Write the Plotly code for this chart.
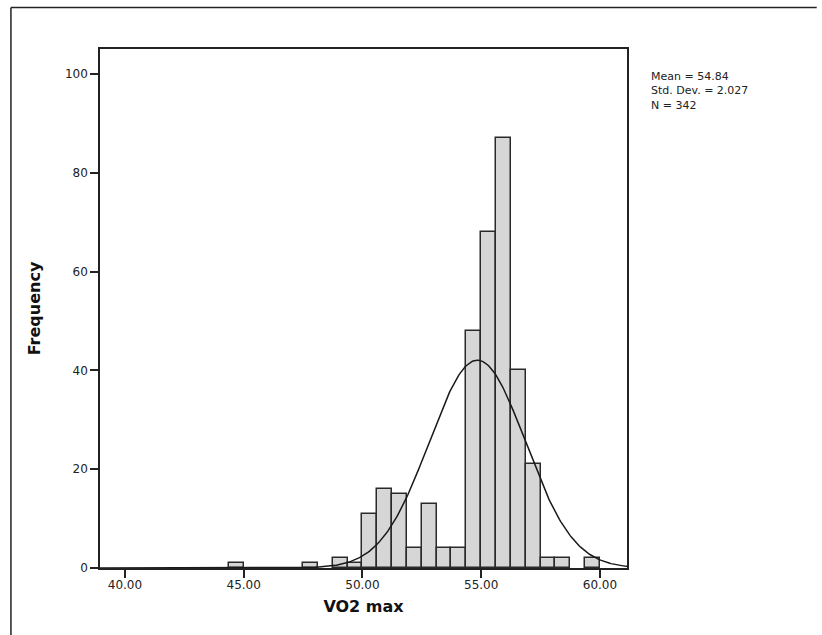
import numpy as np
import plotly.graph_objects as go

# Histogram data (bin left edges, bin width 0.625)
bin_starts = [44.375, 47.5, 48.75, 49.375, 50.0, 50.625, 51.25, 51.875, 52.5,
              53.125, 53.75, 54.375, 55.0, 55.625, 56.25, 56.875, 57.5, 58.125, 59.375]
counts = [1, 1, 2, 1, 11, 16, 15, 4, 13, 4, 4, 48, 68, 87, 40, 21, 2, 2, 2]
bin_width = 0.625

mean_val = 54.84
sd_val = 2.027
n_val = 342

x_ticks = [40, 45, 50, 55, 60]
x_ticklabels = ["40.00", "45.00", "50.00", "55.00", "60.00"]
y_ticks = [0, 20, 40, 60, 80, 100]

centers = [s + bin_width / 2 for s in bin_starts]

fig = go.Figure()
fig.add_trace(go.Bar(
    x=centers, y=counts, width=bin_width,
    marker=dict(color="#d6d6d6", line=dict(color="#2a2a2a", width=1.5)),
    showlegend=False,
))

# Fitted normal curve from the stated mean, SD and N
xs = np.linspace(38.9, 61.2, 400)
ys = n_val * bin_width / (sd_val * np.sqrt(2 * np.pi)) * np.exp(-0.5 * ((xs - mean_val) / sd_val) ** 2)
fig.add_trace(go.Scatter(x=xs, y=ys, mode="lines",
                         line=dict(color="#1a1a1a", width=1.5), showlegend=False))

font_family = "DejaVu Sans, Verdana, sans-serif"

fig.update_layout(
    width=822, height=635,
    margin=dict(l=100, r=195, t=49, b=67),
    paper_bgcolor="white", plot_bgcolor="white",
    font=dict(family=font_family, color="#222222"),
    bargap=0,
    xaxis=dict(
        range=[38.95, 61.14], tickmode="array", tickvals=x_ticks, ticktext=x_ticklabels,
        ticks="outside", ticklen=8, tickwidth=1.5, tickcolor="#222",
        showgrid=False, zeroline=False, showline=True, linecolor="#222", linewidth=1.5,
        mirror=True, tickfont=dict(size=12, family=font_family, color="#222"),
        ticklabelstandoff=-3,
        title=dict(text="<b>VO2 max</b>", font=dict(size=16, family=font_family, color="#111"), standoff=10),
    ),
    yaxis=dict(
        range=[0, 105.1], tickmode="array", tickvals=y_ticks,
        ticks="outside", ticklen=8, tickwidth=1.5, tickcolor="#222",
        showgrid=False, zeroline=False, showline=True, linecolor="#222", linewidth=1.5,
        mirror=True, tickfont=dict(size=12, family=font_family, color="#222"),
        title=dict(text="<b>Frequency</b>", font=dict(size=16, family=font_family, color="#111"), standoff=20),
    ),
    annotations=[dict(
        xref="paper", yref="paper", x=1.0, y=1.0, xshift=22, yshift=-19,
        xanchor="left", yanchor="top", align="left", showarrow=False,
        text="Mean = 54.84<br>Std. Dev. = 2.027<br>N = 342",
        font=dict(size=11, family=font_family, color="#222"),
    )],
    shapes=[
        dict(type="line", xref="paper", yref="paper", x0=-0.169, x1=-0.169, y0=1.08, y1=-0.2,
             line=dict(color="#222", width=1.5)),
        dict(type="line", xref="paper", yref="paper", x0=-0.169, x1=1.36, y0=1.08, y1=1.08,
             line=dict(color="#222", width=1.5)),
    ],
)

fig.write_html("out.html")
